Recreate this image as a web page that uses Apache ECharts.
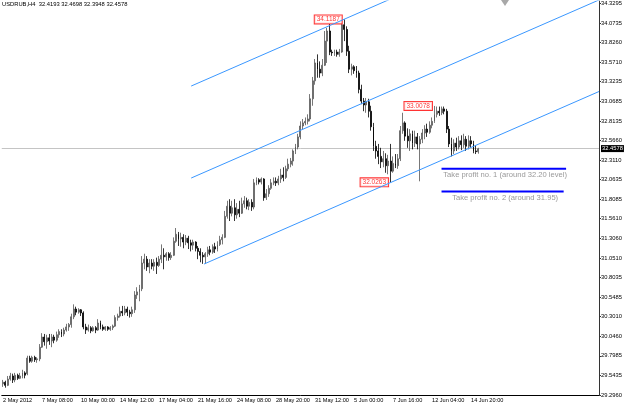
<!DOCTYPE html>
<html>
<head>
<meta charset="utf-8">
<script src="https://cdn.jsdelivr.net/npm/echarts@6/dist/echarts.min.js"></script>
<style>
html, body { margin: 0; padding: 0; background: #fff; }
#chart { width: 625px; height: 407px; }
</style>
</head>
<body>
<div id="chart"></div>
<script>
// USDRUB H4
const symbolName = 'USDRUB,H4'
const xTickLabels = ['2 May 2012', '7 May 08:00', '10 May 00:00', '14 May 12:00', '17 May 04:00', '21 May 16:00',
    '24 May 08:00', '28 May 20:00', '31 May 12:00', '5 Jun 00:00', '7 Jun 16:00', '12 Jun 04:00', '14 Jun 20:00']
const yTickValues = [29.2960, 29.5435, 29.7985, 30.0460, 30.3010, 30.5485, 30.8035, 31.0510, 31.3060, 31.5610, 31.8085,
    32.0635, 32.3110, 32.5660, 32.8135, 33.0685, 33.3235, 33.5710, 33.8260, 34.0735, 34.3295]

const opens = [
    29.44, 29.46, 29.42, 29.50, 29.54, 29.49, 29.55, 29.51, 29.54, 29.58,
    29.57, 29.77, 29.73, 29.78, 29.75, 29.76, 29.91, 30.04, 29.98, 30.03,
    29.99, 30.04, 30.00, 30.07, 30.11, 30.08, 30.13, 30.17, 30.20, 30.30,
    30.40, 30.36, 30.39, 30.35, 30.17, 30.13, 30.16, 30.12, 30.16, 30.13,
    30.22, 30.17, 30.14, 30.17, 30.14, 30.16, 30.18, 30.29, 30.31, 30.37,
    30.35, 30.40, 30.36, 30.34, 30.39, 30.58, 30.62, 30.66, 30.99, 31.04,
    30.94, 30.99, 30.95, 31.00, 30.96, 31.04, 31.09, 31.07, 31.11, 31.06,
    31.09, 31.27, 31.36, 31.30, 31.32, 31.26, 31.31, 31.25, 31.22, 31.26,
    31.18, 31.14, 31.09, 31.07, 31.11, 31.16, 31.13, 31.20, 31.17, 31.23,
    31.29, 31.32, 31.59, 31.72, 31.63, 31.70, 31.61, 31.68, 31.63, 31.75,
    31.79, 31.72, 31.77, 31.71, 32.02, 32.06, 32.03, 32.07, 31.83, 31.88,
    31.95, 32.02, 32.04, 32.02, 32.07, 32.12, 32.09, 32.20, 32.26, 32.30,
    32.43, 32.48, 32.61, 32.75, 32.79, 32.81, 32.84, 33.10, 33.33, 33.56,
    33.48, 33.43, 33.53, 33.84, 33.97, 33.70, 33.69, 33.70, 33.67, 33.70,
    34.05, 33.99, 33.71, 33.48, 33.51, 33.46, 33.43, 33.22, 33.07, 33.02,
    33.06, 32.94, 32.74, 32.49, 32.43, 32.36, 32.29, 32.33, 32.24, 32.30,
    32.17, 32.27, 32.24, 32.33, 32.69, 32.79, 32.62, 32.56, 32.65, 32.53,
    32.61, 32.52, 32.58, 32.66, 32.71, 32.67, 32.76, 32.81, 32.90, 32.94,
    32.92, 32.97, 32.94, 32.71, 32.52, 32.43, 32.53, 32.48, 32.56, 32.51,
    32.58, 32.49, 32.56, 32.52, 32.43, 32.4193
]
const closes = [
    29.46, 29.42, 29.50, 29.54, 29.49, 29.55, 29.51, 29.54, 29.58, 29.55,
    29.77, 29.73, 29.78, 29.75, 29.76, 29.91, 30.04, 29.98, 30.03, 29.99,
    30.04, 30.00, 30.07, 30.11, 30.08, 30.13, 30.17, 30.20, 30.30, 30.40,
    30.36, 30.39, 30.35, 30.17, 30.13, 30.16, 30.12, 30.16, 30.13, 30.22,
    30.17, 30.14, 30.17, 30.14, 30.16, 30.18, 30.29, 30.31, 30.37, 30.35,
    30.40, 30.36, 30.34, 30.39, 30.58, 30.62, 30.66, 30.99, 31.04, 30.94,
    30.99, 30.95, 31.00, 30.96, 31.04, 31.09, 31.07, 31.11, 31.06, 31.09,
    31.27, 31.36, 31.30, 31.32, 31.26, 31.31, 31.25, 31.22, 31.26, 31.18,
    31.14, 31.09, 31.07, 31.11, 31.16, 31.13, 31.20, 31.17, 31.23, 31.29,
    31.32, 31.59, 31.72, 31.63, 31.70, 31.61, 31.68, 31.63, 31.75, 31.79,
    31.72, 31.77, 31.71, 32.02, 32.06, 32.03, 32.07, 31.83, 31.88, 31.95,
    32.02, 32.04, 32.02, 32.07, 32.12, 32.09, 32.20, 32.26, 32.30, 32.43,
    32.48, 32.61, 32.75, 32.79, 32.81, 32.84, 33.10, 33.33, 33.56, 33.48,
    33.43, 33.53, 33.84, 33.97, 33.70, 33.69, 33.70, 33.67, 33.70, 34.05,
    33.99, 33.71, 33.48, 33.51, 33.46, 33.43, 33.22, 33.07, 33.02, 33.06,
    32.94, 32.74, 32.49, 32.43, 32.36, 32.29, 32.33, 32.24, 32.30, 32.17,
    32.27, 32.24, 32.33, 32.69, 32.79, 32.62, 32.56, 32.65, 32.53, 32.61,
    32.52, 32.58, 32.66, 32.71, 32.67, 32.76, 32.81, 32.90, 32.94, 32.92,
    32.97, 32.94, 32.71, 32.52, 32.43, 32.53, 32.48, 32.56, 32.51, 32.58,
    32.49, 32.56, 32.52, 32.43, 32.42, 32.4578
]
const lows = [
    29.40, 29.39, 29.41, 29.48, 29.45, 29.46, 29.49, 29.50, 29.51, 29.51,
    29.55, 29.71, 29.71, 29.72, 29.71, 29.73, 29.90, 29.93, 29.89, 29.94,
    29.91, 29.96, 29.98, 30.03, 30.04, 30.05, 30.11, 30.12, 30.16, 30.27,
    30.32, 30.34, 30.31, 30.14, 30.08, 30.11, 30.09, 30.11, 30.09, 30.12,
    30.14, 30.12, 30.12, 30.12, 30.12, 30.13, 30.17, 30.25, 30.29, 30.31,
    30.32, 30.31, 30.29, 30.30, 30.35, 30.53, 30.50, 30.63, 30.91, 30.89,
    30.86, 30.91, 30.89, 30.85, 30.94, 30.99, 30.91, 31.02, 31.02, 31.03,
    31.08, 31.25, 31.21, 31.20, 31.18, 31.22, 31.17, 31.14, 31.16, 31.14,
    31.04, 31.00, 30.98, 30.98, 31.07, 31.09, 31.11, 31.12, 31.14, 31.21,
    31.23, 31.31, 31.56, 31.53, 31.59, 31.53, 31.56, 31.58, 31.62, 31.70,
    31.68, 31.67, 31.66, 31.68, 31.99, 32.00, 32.00, 31.79, 31.80, 31.84,
    31.93, 31.99, 31.98, 31.99, 32.02, 32.04, 32.07, 32.17, 32.22, 32.24,
    32.39, 32.45, 32.58, 32.71, 32.76, 32.77, 32.81, 33.01, 33.28, 33.37,
    33.37, 33.39, 33.52, 33.56, 33.66, 33.65, 33.65, 33.64, 33.64, 33.69,
    33.84, 33.65, 33.43, 33.40, 33.42, 33.37, 33.17, 33.03, 32.94, 32.92,
    32.86, 32.69, 32.43, 32.33, 32.26, 32.21, 32.22, 32.15, 32.13, 32.0263,
    32.15, 32.21, 32.20, 32.30, 32.65, 32.56, 32.47, 32.43, 32.45, 32.48,
    32.45, 32.04, 32.53, 32.58, 32.61, 32.65, 32.72, 32.79, 32.86, 32.88,
    32.89, 32.90, 32.66, 32.48, 32.36, 32.39, 32.43, 32.45, 32.44, 32.47,
    32.43, 32.45, 32.47, 32.40, 32.39, 32.3948
]
const highs = [
    29.49, 29.48, 29.54, 29.58, 29.57, 29.58, 29.57, 29.58, 29.62, 29.60,
    29.80, 29.80, 29.80, 29.80, 29.78, 29.95, 30.09, 30.08, 30.07, 30.08,
    30.08, 30.07, 30.11, 30.14, 30.14, 30.16, 30.21, 30.22, 30.34, 30.46,
    30.43, 30.41, 30.40, 30.37, 30.21, 30.20, 30.18, 30.18, 30.18, 30.27,
    30.25, 30.20, 30.18, 30.18, 30.18, 30.20, 30.32, 30.34, 30.43, 30.44,
    30.44, 30.43, 30.39, 30.43, 30.63, 30.68, 30.71, 31.08, 31.11, 31.08,
    31.04, 31.04, 31.04, 31.06, 31.08, 31.23, 31.18, 31.13, 31.13, 31.13,
    31.32, 31.44, 31.39, 31.38, 31.36, 31.35, 31.34, 31.29, 31.29, 31.27,
    31.21, 31.18, 31.13, 31.13, 31.20, 31.21, 31.23, 31.25, 31.27, 31.34,
    31.36, 31.66, 31.79, 31.81, 31.79, 31.81, 31.76, 31.79, 31.83, 31.85,
    31.83, 31.81, 31.81, 32.07, 32.09, 32.08, 32.09, 32.08, 31.94, 31.99,
    32.07, 32.09, 32.09, 32.11, 32.20, 32.22, 32.24, 32.33, 32.34, 32.45,
    32.52, 32.65, 32.81, 32.84, 32.86, 32.90, 33.16, 33.38, 33.61, 33.67,
    33.58, 33.61, 33.97, 34.01, 34.06, 33.73, 33.73, 33.73, 33.74, 34.10,
    34.1187, 34.03, 33.78, 33.55, 33.53, 33.52, 33.46, 33.28, 33.11, 33.11,
    33.10, 33.01, 32.79, 32.56, 32.52, 32.47, 32.43, 32.40, 32.38, 32.52,
    32.36, 32.39, 32.39, 32.75, 32.92, 32.81, 32.72, 32.71, 32.69, 32.69,
    32.66, 32.62, 32.71, 32.76, 32.78, 32.81, 32.86, 33.0078, 33.00, 33.00,
    33.00, 33.00, 32.97, 32.75, 32.60, 32.58, 32.60, 32.62, 32.63, 32.65,
    32.62, 32.63, 32.62, 32.56, 32.50, 32.4698
]

const slotCount = 245          // bar slots incl. the empty shift area on the right
const labelEvery = 16          // bars between time labels
const currentPrice = 32.4578
// price marks written on the chart: [bar, price]
const priceMarks = [[140, 34.1187], [177, 33.0078], [159, 32.0263]]
// channel lines: [[bar, price], [bar, price]]
const channelTop = [[77.2, 33.263], [244.5, 35.55]]
const channelMid = [[77.2, 32.082], [244.5, 34.369]]
const channelLow = [[82.5, 30.978], [244.5, 33.193]]
// take profit levels
const tpLevels = [32.20, 31.91]
const tpStart = [179.9, 179.9]
const tpEnd = [231, 230]
const tpTexts = ['Take profit no. 1 (around 32.20 level)', 'Take profit no. 2 (around 31.95)']
const tpTextBar = 206

const font = 'Liberation Sans'
const last = opens.length - 1
const candles = opens.map((o, i) => [o, closes[i], lows[i], highs[i]])
const slots = Array.from({ length: slotCount }, (_, i) => String(i))
const showTime = i => i % labelEvery === 0 && i / labelEvery < xTickLabels.length

const chart = echarts.init(document.getElementById('chart'), null, { renderer: 'canvas' })

const channelLine = d => ({
    type: 'line', xAxisIndex: 1, data: d, symbol: 'none', silent: true, clip: true,
    lineStyle: { color: '#3a97ff', width: 1 }
})

const option = {
    animation: false,
    backgroundColor: '#fff',
    title: {
        text: `${symbolName}  ${opens[last].toFixed(4)} ${highs[last].toFixed(4)} ${lows[last].toFixed(4)} ${closes[last].toFixed(4)}`,
        left: 2, top: 1, padding: 0,
        textStyle: { fontSize: 5.8, fontWeight: 'normal', color: '#000', fontFamily: font }
    },
    grid: { left: 0, right: 26, top: 0, bottom: 12 },
    xAxis: [
        {
            type: 'category',
            data: slots,
            boundaryGap: true,
            axisLine: { onZero: false, lineStyle: { color: '#000', width: 1 } },
            axisTick: { alignWithLabel: true, length: 3, interval: showTime, lineStyle: { color: '#000' } },
            axisLabel: {
                interval: showTime,
                formatter: v => xTickLabels[Number(v) / labelEvery],
                align: 'left', margin: 2, color: '#000', fontSize: 5.6, fontFamily: font
            },
            splitLine: { show: false }
        },
        { type: 'value', min: -0.5, max: slotCount - 0.5, show: false }
    ],
    yAxis: {
        type: 'value',
        position: 'right',
        min: 29.296,
        max: 34.354,
        axisLine: { show: true, onZero: false, lineStyle: { color: '#333' } },
        axisTick: { show: true, length: 2, customValues: yTickValues, lineStyle: { color: '#333' } },
        axisLabel: {
            customValues: yTickValues,
            formatter: v => v.toFixed(4),
            margin: 2, color: '#000', fontSize: 5.8, fontFamily: font
        },
        splitLine: { show: false }
    },
    graphic: [{
        type: 'polygon', shape: { points: [[501, 0], [509, 0], [505, 6]] }, style: { fill: '#a8a8a8' }
    }],
    series: [
        {
            type: 'candlestick',
            data: candles,
            barWidth: 1.4,
            itemStyle: {
                color: '#a4a4a4', color0: '#000',
                borderColor: '#555', borderColor0: '#000', borderWidth: 0.8
            },
            markLine: {
                silent: true, symbol: 'none', z: 1,
                data: [{ yAxis: currentPrice }],
                lineStyle: { color: '#c4c4c4', type: 'solid', width: 1 },
                label: {
                    position: 'end', distance: 2, formatter: currentPrice.toFixed(4),
                    color: '#fff', backgroundColor: '#000', padding: [1, 1, 0, 1],
                    fontSize: 5.8, fontFamily: font
                }
            }
        },
        channelLine(channelTop),
        channelLine(channelMid),
        channelLine(channelLow),
        ...tpLevels.map((lv, i) => ({
            type: 'line', xAxisIndex: 1, symbol: 'none', silent: true,
            data: [[tpStart[i], lv], [tpEnd[i], lv]],
            lineStyle: { color: '#0000ff', width: 2 }
        })),
        {
            type: 'scatter', xAxisIndex: 1, silent: true, symbolSize: 1,
            itemStyle: { color: 'transparent' },
            data: tpLevels.map((lv, i) => ({ value: [tpTextBar, lv], name: tpTexts[i] })),
            label: {
                show: true, position: 'bottom', distance: 2, formatter: p => p.name,
                color: '#808080', fontSize: 7.6, fontFamily: font
            }
        },
        {
            type: 'scatter', xAxisIndex: 1, silent: true, symbolSize: 1,
            itemStyle: { color: 'transparent' },
            data: priceMarks,
            label: {
                show: true, position: 'left', distance: 2,
                formatter: p => p.value[1].toFixed(4),
                color: '#ff0000', backgroundColor: '#fff', borderColor: '#ff0000', borderWidth: 1,
                padding: [1, 2, 0, 2], fontSize: 6.5, fontFamily: font
            }
        }
    ]
}
chart.setOption(option)
</script>
</body>
</html>
